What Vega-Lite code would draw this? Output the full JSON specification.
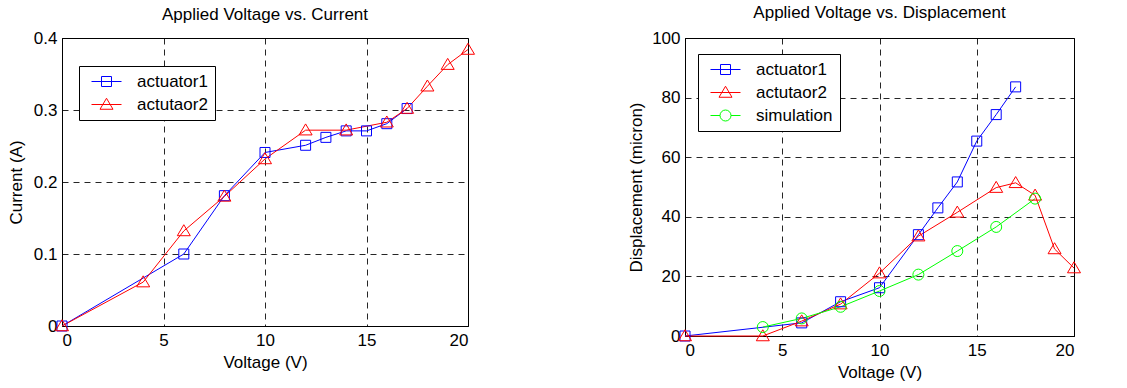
{
  "$schema": "https://vega.github.io/schema/vega-lite/v6.json",
  "background": "white",
  "padding": {"left": 6, "top": 3, "right": 5, "bottom": 0},
  "spacing": 150,
  "align": "none",
  "resolve": {"scale": {"color": "independent", "shape": "independent"}, "legend": {"color": "independent", "shape": "independent"}},
  "config": {
    "font": "Liberation Sans",
    "view": {"stroke": "black", "strokeWidth": 1},
    "title": {"fontSize": 17, "fontWeight": "normal", "font": "Liberation Sans", "color": "black"},
    "axis": {
      "domainColor": "black", "grid": true, "gridColor": "black", "gridDash": [6, 5], "gridOpacity": 0.85,
      "ticks": false, "labelFontSize": 17, "titleFontSize": 17, "titleFontWeight": "normal",
      "labelColor": "black", "titleColor": "black", "labelFont": "Liberation Sans", "titleFont": "Liberation Sans"
    },
    "legend": {"labelFontSize": 17, "labelFont": "Liberation Sans", "labelColor": "black"}
  },
  "hconcat": [
    {
      "width": 406, "height": 288,
      "title": {"text": "Applied Voltage vs. Current", "offset": 5, "fontSize": 17, "font": "Liberation Sans", "fontWeight": "normal"},
      "resolve": {"scale": {"shape": "independent", "color": "independent"}},
      "data": {"values": [
        {"s": "actuator1", "v": 0, "y": 0}, {"s": "actuator1", "v": 6, "y": 0.1}, {"s": "actuator1", "v": 8, "y": 0.181},
        {"s": "actuator1", "v": 10, "y": 0.241}, {"s": "actuator1", "v": 12, "y": 0.251}, {"s": "actuator1", "v": 13, "y": 0.262},
        {"s": "actuator1", "v": 14, "y": 0.271}, {"s": "actuator1", "v": 15, "y": 0.271}, {"s": "actuator1", "v": 16, "y": 0.281},
        {"s": "actuator1", "v": 17, "y": 0.302},
        {"s": "actutaor2", "v": 0, "y": 0}, {"s": "actutaor2", "v": 4, "y": 0.061}, {"s": "actutaor2", "v": 6, "y": 0.132},
        {"s": "actutaor2", "v": 8, "y": 0.18}, {"s": "actutaor2", "v": 10, "y": 0.232}, {"s": "actutaor2", "v": 12, "y": 0.272},
        {"s": "actutaor2", "v": 14, "y": 0.272}, {"s": "actutaor2", "v": 16, "y": 0.283}, {"s": "actutaor2", "v": 17, "y": 0.302},
        {"s": "actutaor2", "v": 18, "y": 0.333}, {"s": "actutaor2", "v": 19, "y": 0.363}, {"s": "actutaor2", "v": 20, "y": 0.384}
      ]},
      "encoding": {
        "x": {"field": "v", "type": "quantitative", "title": "Voltage (V)",
              "scale": {"domain": [0, 20], "nice": false},
              "axis": {"values": [0, 5, 10, 15, 20], "labelPadding": 6, "titlePadding": 6}},
        "y": {"field": "y", "type": "quantitative", "title": "Current (A)",
              "scale": {"domain": [0, 0.4], "nice": false},
              "axis": {"values": [0, 0.1, 0.2, 0.3, 0.4], "format": ".1~f", "labelPadding": 5, "titlePadding": 8}},
        "color": {"field": "s", "type": "nominal",
                  "scale": {"domain": ["actuator1", "actutaor2"], "range": ["#0000ff", "#ff0000"]},
                  "legend": null}
      },
      "layer": [
        {"mark": {"type": "line", "strokeWidth": 1, "clip": false}, "encoding": {}},
        {"mark": {"type": "point", "filled": false, "size": 100, "strokeWidth": 1, "opacity": 1},
         "encoding": {
           "shape": {"field": "s", "type": "nominal",
                     "scale": {"domain": ["actuator1", "actutaor2"], "range": ["M-1,-1H1V1H-1Z", "M0,-1.25L1.3,0.95L-1.3,0.95Z"]},
                     "legend": null}
         }},
        {"transform": [{"filter": "datum.v < 0"}],
         "mark": {"type": "point", "filled": false, "size": 100, "strokeWidth": 1},
         "encoding": {
           "color": {"field": "s", "type": "nominal",
                     "scale": {"domain": ["actuator1", "actutaor2"], "range": ["#0000ff", "#ff0000"]},
                     "legend": {"title": null, "orient": "none", "legendX": 17, "legendY": 28,
                             "fillColor": "white", "strokeColor": "black", "padding": 7,
                             "symbolSize": 100, "symbolOffset": 12, "labelOffset": 22, "rowPadding": 5,
                             "symbolStrokeWidth": 1, "symbolFillColor": "transparent", "symbolOpacity": 1}},
           "shape": {"field": "s", "type": "nominal",
                     "scale": {"domain": ["actuator1", "actutaor2"], "range": ["M-3,0H3M-1,-1H1V1H-1Z", "M-3,0H3M0,-1.25L1.3,0.95L-1.3,0.95Z"]},
                     "legend": {"title": null, "orient": "none", "legendX": 17, "legendY": 28,
                             "fillColor": "white", "strokeColor": "black", "padding": 7,
                             "symbolSize": 100, "symbolOffset": 12, "labelOffset": 22, "rowPadding": 5,
                             "symbolStrokeWidth": 1, "symbolFillColor": "transparent", "symbolOpacity": 1}}
         }}
      ]
    },
    {
      "width": 389, "height": 298,
      "title": {"text": "Applied Voltage vs. Displacement", "offset": 7, "fontSize": 17, "font": "Liberation Sans", "fontWeight": "normal"},
      "resolve": {"scale": {"shape": "independent", "color": "independent"}},
      "data": {"values": [
        {"s": "actuator1", "v": 0, "y": 0}, {"s": "actuator1", "v": 6, "y": 4.4}, {"s": "actuator1", "v": 8, "y": 11.5},
        {"s": "actuator1", "v": 10, "y": 16.2}, {"s": "actuator1", "v": 12, "y": 34}, {"s": "actuator1", "v": 13, "y": 43},
        {"s": "actuator1", "v": 14, "y": 51.7}, {"s": "actuator1", "v": 15, "y": 65.4}, {"s": "actuator1", "v": 16, "y": 74.3},
        {"s": "actuator1", "v": 17, "y": 83.6},
        {"s": "actutaor2", "v": 0, "y": 0}, {"s": "actutaor2", "v": 4, "y": 0}, {"s": "actutaor2", "v": 6, "y": 5},
        {"s": "actutaor2", "v": 8, "y": 10.7}, {"s": "actutaor2", "v": 10, "y": 21.1}, {"s": "actutaor2", "v": 12, "y": 33.5},
        {"s": "actutaor2", "v": 14, "y": 41.5}, {"s": "actutaor2", "v": 16, "y": 49.8}, {"s": "actutaor2", "v": 17, "y": 51.4},
        {"s": "actutaor2", "v": 18, "y": 47.2}, {"s": "actutaor2", "v": 19, "y": 29.2}, {"s": "actutaor2", "v": 20, "y": 22.8},
        {"s": "simulation", "v": 4, "y": 3}, {"s": "simulation", "v": 6, "y": 5.9}, {"s": "simulation", "v": 8, "y": 9.8},
        {"s": "simulation", "v": 10, "y": 15.1}, {"s": "simulation", "v": 12, "y": 20.6}, {"s": "simulation", "v": 14, "y": 28.5},
        {"s": "simulation", "v": 16, "y": 36.6}, {"s": "simulation", "v": 18, "y": 46.1}
      ]},
      "encoding": {
        "x": {"field": "v", "type": "quantitative", "title": "Voltage (V)",
              "scale": {"domain": [0, 20], "nice": false},
              "axis": {"values": [0, 5, 10, 15, 20], "labelPadding": 6, "titlePadding": 6}},
        "y": {"field": "y", "type": "quantitative", "title": "Displacement (micron)",
              "scale": {"domain": [0, 100], "nice": false},
              "axis": {"values": [0, 20, 40, 60, 80, 100], "labelPadding": 5, "titlePadding": 6}},
        "color": {"field": "s", "type": "nominal",
                  "scale": {"domain": ["actuator1", "actutaor2", "simulation"], "range": ["#0000ff", "#ff0000", "#00ff00"]},
                  "legend": null}
      },
      "layer": [
        {"mark": {"type": "line", "strokeWidth": 1, "clip": false}, "encoding": {}},
        {"mark": {"type": "point", "filled": false, "size": 100, "strokeWidth": 1, "opacity": 1},
         "encoding": {
           "shape": {"field": "s", "type": "nominal",
                     "scale": {"domain": ["actuator1", "actutaor2", "simulation"], "range": ["M-1,-1H1V1H-1Z", "M0,-1.25L1.3,0.95L-1.3,0.95Z", "M1.1,0A1.1,1.1 0 1,1 -1.1,0A1.1,1.1 0 1,1 1.1,0Z"]},
                     "legend": null}
         }},
        {"transform": [{"filter": "datum.v < 0"}],
         "mark": {"type": "point", "filled": false, "size": 100, "strokeWidth": 1},
         "encoding": {
           "color": {"field": "s", "type": "nominal",
                     "scale": {"domain": ["actuator1", "actutaor2", "simulation"], "range": ["#0000ff", "#ff0000", "#00ff00"]},
                     "legend": {"title": null, "orient": "none", "legendX": 13, "legendY": 16,
                             "fillColor": "white", "strokeColor": "black", "padding": 7,
                             "symbolSize": 100, "symbolOffset": 12, "labelOffset": 22, "rowPadding": 5,
                             "symbolStrokeWidth": 1, "symbolFillColor": "transparent", "symbolOpacity": 1}},
           "shape": {"field": "s", "type": "nominal",
                     "scale": {"domain": ["actuator1", "actutaor2", "simulation"], "range": ["M-3,0H3M-1,-1H1V1H-1Z", "M-3,0H3M0,-1.25L1.3,0.95L-1.3,0.95Z", "M-3,0H-1.1M1.1,0H3M1.1,0A1.1,1.1 0 1,1 -1.1,0A1.1,1.1 0 1,1 1.1,0Z"]},
                     "legend": {"title": null, "orient": "none", "legendX": 13, "legendY": 16,
                             "fillColor": "white", "strokeColor": "black", "padding": 7,
                             "symbolSize": 100, "symbolOffset": 12, "labelOffset": 22, "rowPadding": 5,
                             "symbolStrokeWidth": 1, "symbolFillColor": "transparent", "symbolOpacity": 1}}
         }}
      ]
    }
  ]
}
